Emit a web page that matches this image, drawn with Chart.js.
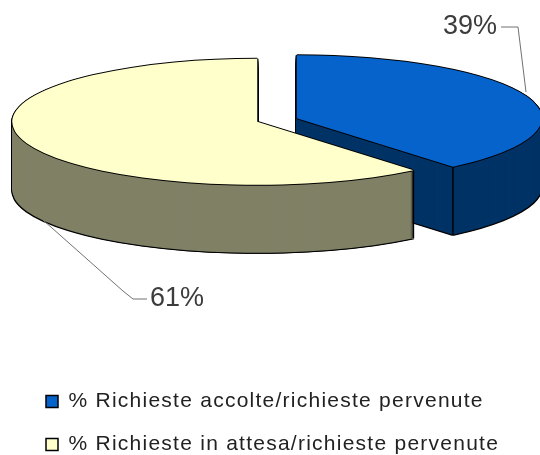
<!DOCTYPE html>
<html>
<head>
<meta charset="utf-8">
<style>html,body{margin:0;padding:0;background:#fff}canvas{display:block}</style>
<script src="https://cdn.jsdelivr.net/npm/chart.js@4"></script>
</head>
<body>
<canvas id="c" width="540" height="455"></canvas>
<script>
const categories = ['% Richieste accolte/richieste pervenute', '% Richieste in attesa/richieste pervenute'];
const values = [39, 61];
const topColors = ['#0663CC', '#FFFFCC'];
const sideColors = ['#003366', '#808066'];

const CENTER = {x: 277, y: 120};
const SQUASH = 0.257;
const EXPLODE = 21;
const DEPTH = 68;
const LABELS = [
  {index: 0, x: 443, y: 27, leader: [[501, 27], [518, 27], [526, 92]]},
  {index: 1, x: 150, y: 299, leader: [[147, 299], [133, 299], [123, 291], [43, 220]]}
];

function paintArc(ctx, arc, color, dx, dy) {
  const mid = (arc.startAngle + arc.endAngle) / 2;
  const ghost = Object.create(arc);
  ghost.options = Object.assign({}, arc.options, {backgroundColor: color, borderWidth: 0, offset: 0});
  ctx.save();
  ctx.translate(CENTER.x + EXPLODE * Math.cos(mid) + dx, CENTER.y + EXPLODE * Math.sin(mid) * SQUASH + dy);
  ctx.scale(1, SQUASH);
  ctx.translate(-arc.x, -arc.y);
  ghost.draw(ctx);
  ctx.restore();
}

function edgePoint(arc, angle) {
  const mid = (arc.startAngle + arc.endAngle) / 2;
  return {
    x: CENTER.x + EXPLODE * Math.cos(mid) + arc.outerRadius * Math.cos(angle),
    y: CENTER.y + (EXPLODE * Math.sin(mid) + arc.outerRadius * Math.sin(angle)) * SQUASH
  };
}

const pie3d = {
  id: 'pie3d',
  beforeDraw(chart) {
    chart.ctx.letterSpacing = '1.25px';
  },
  beforeDatasetsDraw(chart) {
    const ctx = chart.ctx;
    ctx.letterSpacing = '0px';
    const arcs = chart.getDatasetMeta(0).data;
    arcs.forEach((arc, i) => {
      for (let d = 0; d <= DEPTH + 1; d += 1) {
        paintArc(ctx, arc, '#000', -1, d);
        paintArc(ctx, arc, '#000', 1, d);
      }
      for (let d = DEPTH; d >= 0; d -= 1) {
        paintArc(ctx, arc, sideColors[i], 0, d);
      }
      const p = edgePoint(arc, i === 0 ? arc.endAngle : arc.startAngle);
      ctx.save();
      ctx.strokeStyle = '#000';
      ctx.lineWidth = 1.5;
      ctx.beginPath();
      ctx.moveTo(p.x, p.y);
      ctx.lineTo(p.x, p.y + DEPTH);
      ctx.stroke();
      ctx.restore();
      [[-1, 0], [1, 0], [0, -1], [0, 1]].forEach(o => paintArc(ctx, arc, '#000', o[0], o[1]));
      paintArc(ctx, arc, topColors[i], 0, 0);
    });
    ctx.save();
    ctx.font = '27px "Liberation Sans", Arial, sans-serif';
    ctx.textBaseline = 'middle';
    ctx.textAlign = 'left';
    LABELS.forEach(l => {
      ctx.fillStyle = '#3c3c3c';
      ctx.fillText(values[l.index] + '%', l.x, l.y);
      ctx.strokeStyle = '#707070';
      ctx.lineWidth = 1;
      ctx.beginPath();
      l.leader.forEach((p, k) => k ? ctx.lineTo(p[0], p[1]) : ctx.moveTo(p[0], p[1]));
      ctx.stroke();
    });
    ctx.restore();
    return false;
  }
};

new Chart(document.getElementById('c'), {
  type: 'pie',
  data: {
    labels: categories,
    datasets: [{
      data: values,
      backgroundColor: topColors,
      borderColor: '#000',
      borderWidth: 1.5
    }]
  },
  options: {
    responsive: false,
    animation: false,
    radius: 245,
    layout: {padding: {left: 24, right: 0, top: 0, bottom: -10}},
    plugins: {
      tooltip: {enabled: false},
      legend: {
        position: 'bottom',
        align: 'start',
        labels: {
          boxWidth: 12,
          boxHeight: 12,
          padding: 22,
          color: '#222',
          font: {family: '"Liberation Sans", Arial, sans-serif', size: 21}
        }
      }
    }
  },
  plugins: [pie3d]
});
</script>
</body>
</html>
